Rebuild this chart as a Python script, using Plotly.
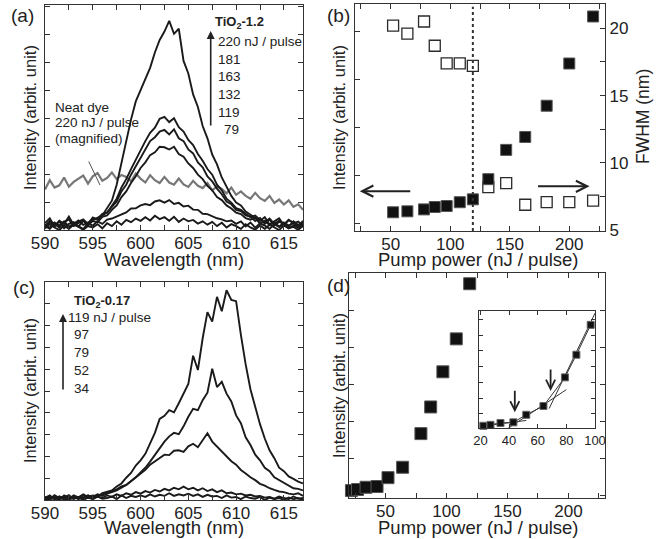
import plotly.graph_objects as go

W, H = 663, 539

# ---------------- data ----------------
wavelength = [590 + 0.5 * i for i in range(55)]

# Panel (a): TiO2-1.2 spectra (arbit. unit)
spec_a_220 = [0.25, 0.42, 0.12, 0.33, 0.22, 0.48, 0.18, 0.30, 0.38, 0.22,
              0.45, 0.36, 0.52, 0.78, 1.05, 1.62, 2.38, 3.22, 3.95, 4.60,
              5.02, 5.45, 5.80, 6.35, 6.80, 7.10, 7.48, 7.02, 7.20, 6.05,
              5.60, 4.85, 4.40, 3.72, 3.28, 2.70, 2.35, 1.88, 1.52, 1.22,
              0.98, 0.88, 0.66, 0.55, 0.44, 0.32, 0.46, 0.20, 0.31, 0.42,
              0.18, 0.35, 0.26, 0.15, 0.33]
spec_a_181 = [0.15, 0.32, 0.22, 0.08, 0.28, 0.38, 0.14, 0.26, 0.35, 0.18,
              0.42, 0.40, 0.58, 0.62, 0.88, 1.12, 1.52, 1.82, 2.18, 2.52,
              2.88, 3.18, 3.48, 3.66, 3.98, 4.05, 3.86, 4.00, 3.68, 3.52,
              3.22, 3.04, 2.72, 2.48, 2.18, 1.98, 1.62, 1.42, 1.12, 0.98,
              0.78, 0.72, 0.58, 0.46, 0.52, 0.36, 0.28, 0.41, 0.22, 0.33,
              0.19, 0.37, 0.24, 0.30, 0.14]
spec_a_163 = [0.20, 0.08, 0.27, 0.16, 0.31, 0.12, 0.22, 0.34, 0.18, 0.26,
              0.36, 0.42, 0.52, 0.63, 0.82, 1.02, 1.38, 1.62, 1.98, 2.28,
              2.62, 2.88, 3.18, 3.32, 3.52, 3.58, 3.42, 3.60, 3.28, 3.18,
              2.88, 2.74, 2.42, 2.24, 1.92, 1.74, 1.48, 1.28, 1.02, 0.92,
              0.72, 0.68, 0.52, 0.48, 0.32, 0.43, 0.22, 0.37, 0.16, 0.29,
              0.24, 0.12, 0.31, 0.18, 0.26]
spec_a_132 = [0.10, 0.26, 0.14, 0.31, 0.06, 0.22, 0.28, 0.12, 0.33, 0.18,
              0.32, 0.28, 0.47, 0.52, 0.72, 0.88, 1.18, 1.38, 1.68, 1.92,
              2.22, 2.42, 2.68, 2.78, 2.98, 2.96, 2.88, 2.98, 2.72, 2.62,
              2.38, 2.22, 1.98, 1.82, 1.58, 1.42, 1.18, 1.07, 0.88, 0.77,
              0.62, 0.57, 0.42, 0.37, 0.44, 0.22, 0.33, 0.18, 0.28, 0.12,
              0.27, 0.16, 0.24, 0.08, 0.21]
spec_a_119 = [0.15, 0.04, 0.22, 0.12, 0.26, 0.06, 0.18, 0.14, 0.03, 0.24,
              0.16, 0.31, 0.22, 0.37, 0.41, 0.48, 0.57, 0.63, 0.77, 0.78,
              0.88, 0.93, 0.89, 1.02, 1.06, 0.98, 1.07, 0.93, 0.97, 0.84,
              0.87, 0.73, 0.72, 0.58, 0.57, 0.48, 0.42, 0.38, 0.31, 0.34,
              0.22, 0.31, 0.13, 0.27, 0.08, 0.24, 0.16, 0.04, 0.21, 0.11,
              0.18, 0.06, 0.16, 0.09, 0.21]
spec_a_79 = [0.05, 0.21, 0.09, 0.00, 0.16, 0.04, 0.22, 0.11, 0.01, 0.14,
             0.09, 0.21, 0.06, 0.24, 0.14, 0.31, 0.19, 0.36, 0.28, 0.41,
             0.33, 0.46, 0.34, 0.51, 0.39, 0.46, 0.33, 0.47, 0.29, 0.41,
             0.31, 0.36, 0.23, 0.31, 0.19, 0.29, 0.14, 0.26, 0.09, 0.21,
             0.14, 0.04, 0.21, 0.09, 0.01, 0.16, 0.04, 0.19, 0.11, 0.00,
             0.16, 0.06, 0.11, 0.01, 0.14]
spec_a_neat = [1.45, 1.78, 1.52, 1.60, 1.88, 1.55, 1.72, 1.83, 1.95, 1.66,
               1.92, 2.04, 1.76, 1.86, 2.06, 1.82, 1.97, 1.90, 1.74, 2.02,
               1.84, 1.70, 1.96, 1.78, 1.68, 1.90, 1.70, 1.62, 1.84, 1.63,
               1.54, 1.76, 1.58, 1.50, 1.68, 1.42, 1.56, 1.47, 1.31, 1.52,
               1.26, 1.38, 1.22, 1.12, 1.33, 1.14, 1.04, 1.22, 0.97, 1.09,
               0.91, 1.06, 0.83, 0.92, 0.72]
spectra_a = [spec_a_neat, spec_a_79, spec_a_119, spec_a_132, spec_a_163, spec_a_181, spec_a_220]
labels_a = ["Neat dye 220", "79", "119", "132", "163", "181", "220"]

# Panel (b)
pump_b = [52, 64, 78, 87, 97, 108, 119, 132, 147, 163, 181, 200, 220]
intensity_b = [0.23, 0.25, 0.29, 0.34, 0.36, 0.44, 0.50, 0.92, 1.53, 1.80, 2.45, 3.33, 4.31]
fwhm_b = [20.2, 19.6, 20.5, 18.7, 17.4, 17.4, 17.2, 8.2, 8.5, 6.9, 7.1, 7.1, 7.2]
threshold_b = 119

# Panel (c): TiO2-0.17 spectra
spec_c_119 = [0.15, 0.04, 0.22, 0.09, 0.16, 0.03, 0.21, 0.12, 0.26, 0.14,
              0.21, 0.16, 0.31, 0.36, 0.44, 0.62, 0.76, 1.02, 1.24, 1.58,
              1.82, 2.12, 2.62, 3.08, 3.72, 3.86, 4.12, 4.02, 4.44, 4.86,
              5.32, 6.62, 5.96, 7.42, 8.62, 8.18, 9.32, 8.66, 9.62, 9.18,
              9.12, 7.58, 6.22, 5.08, 4.22, 3.48, 2.82, 2.28, 1.92, 1.48,
              1.32, 1.08, 0.97, 0.84, 0.76]
spec_c_97 = [0.10, 0.21, 0.04, 0.16, 0.11, 0.22, 0.05, 0.14, 0.09, 0.21,
             0.14, 0.26, 0.19, 0.31, 0.41, 0.49, 0.62, 0.69, 0.86, 1.04,
             1.26, 1.48, 1.76, 2.08, 2.42, 2.68, 2.92, 3.08, 3.02, 3.38,
             3.82, 4.18, 4.12, 4.58, 4.92, 6.02, 5.18, 5.42, 4.88, 4.52,
             3.88, 3.52, 2.88, 2.52, 2.08, 1.82, 1.48, 1.32, 1.04, 0.92,
             0.78, 0.66, 0.54, 0.51, 0.44]
spec_c_79 = [0.05, 0.16, 0.09, 0.00, 0.21, 0.11, 0.14, 0.04, 0.21, 0.09,
             0.16, 0.19, 0.26, 0.29, 0.36, 0.44, 0.56, 0.69, 0.86, 1.04,
             1.22, 1.38, 1.62, 1.78, 1.96, 2.08, 2.06, 2.26, 2.28, 2.21,
             2.46, 2.58, 2.42, 2.74, 3.06, 2.68, 2.46, 2.24, 2.02, 1.78,
             1.62, 1.38, 1.22, 1.04, 0.91, 0.74, 0.66, 0.54, 0.46, 0.39,
             0.36, 0.29, 0.26, 0.31, 0.19]
spec_c_52 = [0.10, 0.00, 0.16, 0.04, 0.11, 0.01, 0.14, 0.06, 0.09, 0.21,
             0.04, 0.16, 0.09, 0.21, 0.14, 0.26, 0.19, 0.31, 0.24, 0.36,
             0.29, 0.41, 0.34, 0.46, 0.39, 0.51, 0.44, 0.56, 0.49, 0.61,
             0.49, 0.56, 0.44, 0.54, 0.41, 0.49, 0.36, 0.44, 0.31, 0.34,
             0.26, 0.29, 0.21, 0.24, 0.16, 0.19, 0.11, 0.14, 0.06, 0.16,
             0.09, 0.04, 0.16, 0.06, 0.09]
spec_c_34 = [0.00, 0.11, 0.04, 0.16, 0.01, 0.09, 0.06, 0.14, 0.00, 0.11,
             0.04, 0.16, 0.06, 0.09, 0.16, 0.04, 0.21, 0.09, 0.19, 0.14,
             0.21, 0.14, 0.26, 0.16, 0.24, 0.19, 0.31, 0.19, 0.26, 0.21,
             0.29, 0.19, 0.26, 0.14, 0.24, 0.16, 0.19, 0.09, 0.21, 0.11,
             0.14, 0.04, 0.16, 0.09, 0.06, 0.14, 0.00, 0.11, 0.04, 0.09,
             0.01, 0.11, 0.04, 0.09, 0.00]
spectra_c = [spec_c_34, spec_c_52, spec_c_79, spec_c_97, spec_c_119]
labels_c = ["34", "52", "79", "97", "119"]

# Panel (d) and inset
pump_d = [22, 27, 34, 43, 52, 64, 79, 87, 97, 108, 119]
intensity_d = [0.12, 0.15, 0.21, 0.23, 0.47, 0.75, 1.66, 2.38, 3.33, 4.22, 5.71]
inset_n = 9
fit_low_x, fit_low_y = [20, 52], [0.10, 0.29]
fit_mid_x, fit_mid_y = [38, 80], [0.00, 1.27]
fit_high_x, fit_high_y = [68, 100], [0.67, 3.70]
arrow_pos_x = [44, 69]
arrow_pos_y = [0.55, 1.23]

# ---------------- helpers ----------------
def px(x):
    return x / W

def py(y):
    return 1 - y / H

FONT = "Liberation Sans, Arial, Helvetica, sans-serif"
INK = "#222"
AX = "#333"

fig = go.Figure()

# Panel (a)
for name, s in zip(labels_a, spectra_a):
    grey = name.startswith("Neat")
    fig.add_trace(go.Scatter(x=wavelength, y=s, mode="lines", name=name,
                             line=dict(color="#777" if grey else "#1a1a1a", width=2.2 if grey else 1.9),
                             xaxis="x", yaxis="y", showlegend=False))

# Panel (b): FWHM (open) on base axis y2, intensity (filled) on overlay y3
fig.add_trace(go.Scatter(x=pump_b, y=fwhm_b, mode="markers", xaxis="x2", yaxis="y2",
                         marker=dict(symbol="square-open", size=11, color="#2a2a2a", line=dict(width=1.3)),
                         showlegend=False))
fig.add_trace(go.Scatter(x=pump_b, y=intensity_b, mode="markers", xaxis="x2", yaxis="y3",
                         marker=dict(symbol="square", size=11, color="#111", line=dict(color="#555", width=1)),
                         showlegend=False))

# Panel (c)
for name, s in zip(labels_c, spectra_c):
    fig.add_trace(go.Scatter(x=wavelength, y=s, mode="lines", name=name,
                             line=dict(color="#1a1a1a", width=1.9),
                             xaxis="x3", yaxis="y4", showlegend=False))

# Panel (d)
fig.add_trace(go.Scatter(x=pump_d, y=intensity_d, mode="markers", xaxis="x4", yaxis="y5",
                         marker=dict(symbol="square", size=12, color="#111", line=dict(color="#555", width=1)),
                         cliponaxis=False, showlegend=False))

# Inset
for fx, fy in [(fit_low_x, fit_low_y), (fit_mid_x, fit_mid_y), (fit_high_x, fit_high_y)]:
    fig.add_trace(go.Scatter(x=fx, y=fy, mode="lines", xaxis="x5", yaxis="y6",
                             line=dict(color="#333", width=1), showlegend=False))
fig.add_trace(go.Scatter(x=pump_d[:inset_n], y=intensity_d[:inset_n], mode="lines+markers",
                         xaxis="x5", yaxis="y6", cliponaxis=False,
                         line=dict(color="#333", width=1),
                         marker=dict(symbol="square", size=7, color="#111", line=dict(color="#666", width=1)),
                         showlegend=False))

base = dict(showline=True, linecolor=AX, linewidth=1.4, mirror="ticks", ticks="inside",
            ticklen=5, tickwidth=1, tickcolor=AX, showgrid=False, zeroline=False,
            automargin=False,
            tickfont=dict(size=17, color=INK, family=FONT))
minor_x = lambda d: dict(dtick=d, ticks="inside", ticklen=5, tickwidth=1, tickcolor=AX)

fig.update_layout(
    template="none",
    width=W, height=H, margin=dict(l=0, r=0, t=0, b=0, autoexpand=False),
    paper_bgcolor="white", plot_bgcolor="white", showlegend=False,
    font=dict(family=FONT, color=INK),
    xaxis=dict(base, domain=[px(45), px(303)], range=[590, 617], dtick=5, tick0=590,
               minor=minor_x(2.5), anchor="y", ticklabelstandoff=-3),
    yaxis=dict(base, domain=[py(230), py(5)], range=[0, 8.05], dtick=1, showticklabels=False,
               anchor="x"),
    xaxis2=dict(base, domain=[px(355), px(605)], range=[20, 230], dtick=50, tick0=0,
                minor=minor_x(25), anchor="y2", ticklabelstandoff=-3),
    yaxis2=dict(base, domain=[py(231), py(4)], range=[4.95, 21.8], dtick=5, tick0=5,
                minor=dict(dtick=2.5, ticks="inside", ticklen=5, tickcolor=AX),
                side="right", mirror=False, anchor="x2"),
    yaxis3=dict(base, range=[-0.16, 4.57], dtick=1, tick0=0, showticklabels=False,
                overlaying="y2", side="left", mirror=False, anchor="x2"),
    xaxis3=dict(base, domain=[px(45), px(303)], range=[590, 617], dtick=5, tick0=590,
                minor=minor_x(2.5), anchor="y4", ticklabelstandoff=-3),
    yaxis4=dict(base, domain=[py(500), py(282)], range=[0, 10], dtick=1, showticklabels=False,
                anchor="x3"),
    xaxis4=dict(base, domain=[px(349), px(605)], range=[20, 230], dtick=50, tick0=0,
                minor=minor_x(25), anchor="y5", ticklabelstandoff=-3),
    yaxis5=dict(base, domain=[py(498), py(273)], range=[-0.08, 6.0], dtick=1, tick0=0,
                showticklabels=False, anchor="x4"),
    xaxis5=dict(base, domain=[px(479), px(595)], range=[19, 100], dtick=20, tick0=0,
                ticklen=4, tickfont=dict(size=13, color=INK, family=FONT), anchor="y6"),
    yaxis6=dict(base, domain=[py(428), py(310.7)], range=[0.05, 3.78], dtick=0.5, tick0=0,
                ticklen=4, showticklabels=False, anchor="x5"),
)

# dotted threshold line in (b)
fig.add_shape(type="line", xref="x2", yref="y2", x0=threshold_b, x1=threshold_b, y0=4.95, y1=21.6,
              line=dict(color="#333", width=2, dash="dot"))

ann = []
def text(x, y, s, size=13, bold=False, anchor="left", angle=0):
    ann.append(dict(x=px(x), y=py(y), xref="paper", yref="paper", text=("<b>%s</b>" % s) if bold else s,
                    showarrow=False, xanchor=anchor, yanchor="middle", textangle=angle,
                    font=dict(size=size, color=INK, family=FONT)))

# axis titles
text(174, 259, "Wavelength (nm)", 18.5, anchor="center")
text(174, 527, "Wavelength (nm)", 18.5, anchor="center")
text(478, 259, "Pump power (nJ / pulse)", 18.5, anchor="center")
text(478, 527, "Pump power (nJ / pulse)", 18.5, anchor="center")
text(30, 118, "Intensity (arbit. unit)", 16.5, anchor="center", angle=-90)
text(30, 391, "Intensity (arbit. unit)", 16.5, anchor="center", angle=-90)
text(339, 118, "Intensity (arbit. unit)", 16.5, anchor="center", angle=-90)
text(339, 386, "Intensity (arbit. unit)", 16.5, anchor="center", angle=-90)
text(643, 117, "FWHM (nm)", 17.5, anchor="center", angle=-90)

# panel letters
text(22, 15, "(a)", 19, anchor="center")
text(338, 15, "(b)", 19, anchor="center")
text(24, 287, "(c)", 19, anchor="center")
text(338, 285, "(d)", 19, anchor="center")

# (a) legend text
text(213, 23, "TiO<sub>2</sub>-1.2", 13, bold=True)
for lab, yy, xx in [("220 nJ / pulse", 41.5, 216), ("181", 59, 216), ("163", 77, 216),
                    ("132", 95, 216), ("119", 112, 216), ("79", 129, 222)]:
    text(xx, yy, lab, 13.5)
text(53, 108, "Neat dye", 13.5)
text(53, 123, "220 nJ / pulse", 13.5)
text(53, 138, "(magnified)", 13.5)

# (c) legend text
text(72, 301, "TiO<sub>2</sub>-0.17", 13, bold=True)
for lab, yy, xx in [("119 nJ / pulse", 317, 66), ("97", 334, 72), ("79", 352, 72),
                    ("52", 370, 72), ("34", 388, 72)]:
    text(xx, yy, lab, 13.5)

# vertical arrows in (a) and (c)
ann.append(dict(x=px(210.7), y=py(31), xref="paper", yref="paper", ax=0, ay=96, axref="pixel", ayref="pixel",
                showarrow=True, arrowhead=2, arrowsize=1, arrowwidth=1.6, arrowcolor="#222", text=""))
ann.append(dict(x=px(63), y=py(314), xref="paper", yref="paper", ax=0, ay=77, axref="pixel", ayref="pixel",
                showarrow=True, arrowhead=2, arrowsize=1, arrowwidth=1.6, arrowcolor="#222", text=""))
# leader line for neat dye
ann.append(dict(x=px(100), y=py(185), xref="paper", yref="paper", ax=-12, ay=-25,
                showarrow=True, arrowhead=0, arrowwidth=1, arrowcolor="#555", text=""))
# (b) horizontal arrows
ann.append(dict(x=24, y=0.67, xref="x2", yref="y3", ax=52, ay=0, showarrow=True, arrowhead=5,
                arrowsize=1.1, arrowwidth=2, arrowcolor="#222", text=""))
ann.append(dict(x=217, y=0.77, xref="x2", yref="y3", ax=-53, ay=0, showarrow=True, arrowhead=5,
                arrowsize=1.1, arrowwidth=2, arrowcolor="#222", text=""))
# inset arrows
for xa, ya in zip(arrow_pos_x, arrow_pos_y):
    ann.append(dict(x=xa, y=ya, xref="x5", yref="y6", ax=0, ay=-23, showarrow=True, arrowhead=5,
                    arrowsize=1, arrowwidth=1.8, arrowcolor="#222", text=""))

fig.update_layout(annotations=ann)
fig.write_html("out.html",
               config={"displayModeBar": False},
               post_script="document.body.style.margin='0';document.body.style.padding='0';"
                           "document.body.style.overflow='hidden';")
